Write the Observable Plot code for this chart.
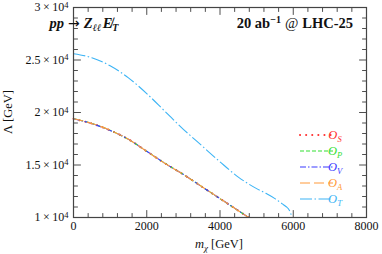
<!DOCTYPE html>
<html><head><meta charset="utf-8">
<script src="https://cdn.jsdelivr.net/npm/d3@7"></script>
<script src="https://cdn.jsdelivr.net/npm/@observablehq/plot@0.6"></script>
<style>body{margin:0;background:#fff}</style>
</head><body><div id="chart"></div>
<script>
// ---- data ----
const mChi    = [0, 500, 1000, 1500, 2000, 2500, 3000, 3500, 4000, 4500, 4780];
const lambdaS = [19400, 18950, 18300, 17450, 16300, 15150, 14100, 12950, 11800, 10650, 10000];
const lambdaP = [19420, 18960, 18300, 17440, 16300, 15160, 14100, 12950, 11790, 10650, 10000];
const lambdaV = [19400, 18940, 18290, 17450, 16310, 15150, 14110, 12940, 11800, 10660, 10000];
const lambdaA = [19410, 18950, 18310, 17450, 16300, 15150, 14100, 12950, 11800, 10650, 10000];
const mChiT    = [0, 500, 1000, 1500, 2000, 2500, 3000, 3500, 4000, 4500, 5000, 5250, 5500, 5700, 5800, 5900, 5970];
const lambdaT  = [25600, 25220, 24450, 23300, 21800, 20100, 18400, 16850, 15300, 13850, 12750, 12300, 11800, 11300, 11050, 10650, 10000];
const xMajor = [0, 2000, 4000, 6000, 8000];
const xMinor = d3.range(0, 8001, 400).filter(v => v % 2000 !== 0);
const yMajor = [10000, 15000, 20000, 25000, 30000];
const yMinor = d3.range(10000, 30001, 1000).filter(v => v % 5000 !== 0);
const seriesNames = ["S", "P", "V", "A", "T"];
const colors = {S: "#ff3030", P: "#33e033", V: "#3a3aff", A: "#ff9a3a", T: "#3cb4f5"};
const dashes = {S: "0.1 6", P: "4 2", V: "6 2 1.5 2", A: "10 4", T: "12 2.5 1.5 2.5"};
const widths = {S: 2, P: 1.1, V: 1.1, A: 1.1, T: 1.1};

const tbl = (xs, ys) => xs.map((m, i) => ({m, v: ys[i]}));
const data = {S: tbl(mChi, lambdaS), P: tbl(mChi, lambdaP), V: tbl(mChi, lambdaV), A: tbl(mChi, lambdaA), T: tbl(mChiT, lambdaT)};

const tickShape = {draw(ctx, l) { ctx.moveTo(0, 0); ctx.lineTo(0, -l); }};
const tickMarks = (vals, axis, len) => {
  const o = {shape: tickShape, anchor: "start", length: len, stroke: "#222", strokeWidth: 0.8};
  if (axis === "x") return [
    Plot.vector(vals, {...o, x: d => d, y: 10000, rotate: 0}),
    Plot.vector(vals, {...o, x: d => d, y: 30000, rotate: 180})
  ];
  return [
    Plot.vector(vals, {...o, y: d => d, x: 0, rotate: 90}),
    Plot.vector(vals, {...o, y: d => d, x: 8000, rotate: -90})
  ];
};

const FONT = "\"Liberation Serif\", \"DejaVu Serif\", serif";
const plot = Plot.plot({
  width: 382, height: 254,
  marginLeft: 73, marginRight: 16, marginTop: 7, marginBottom: 37,
  x: {domain: [0, 8000], label: null},
  y: {domain: [10000, 30000], label: null},
  style: {fontFamily: FONT, fontSize: "12px", background: "white", color: "#111"},
  marks: [
    ...seriesNames.map(k => Plot.line(data[k], {
      x: "m", y: "v", stroke: colors[k], strokeWidth: widths[k],
      strokeDasharray: dashes[k], strokeLinecap: k === "S" ? "round" : "butt", curve: "monotone-x"
    })),
    ...tickMarks(xMajor, "x", 7), ...tickMarks(xMinor, "x", 4),
    ...tickMarks(yMajor, "y", 7), ...tickMarks(yMinor, "y", 4),
    Plot.frame({stroke: "#444", strokeWidth: 1.2}),
    Plot.axisX(xMajor, {tickSize: 0, tickPadding: 4, fontSize: 12, tickFormat: d => String(d)}),
    Plot.axisY(yMajor, {tickSize: 0, tickPadding: 5, fontSize: 12, tickFormat: d => `${d / 1e4}|4`})
  ]
});
document.getElementById("chart").appendChild(plot);

const svg = d3.select(plot);
svg.selectAll('g[aria-label="y-axis tick label"] text').each(function() {
  const t = d3.select(this);
  const [mant, exp] = t.text().split("|");
  t.text(null);
  t.append("tspan").text(mant);
  t.append("tspan").attr("dx", 2.5).text("×");
  t.append("tspan").attr("dx", 2.5).text("10");
  t.append("tspan").attr("dy", "-0.45em").attr("font-size", 8.5).text(exp);
});

const g = svg.append("g").attr("font-family", FONT).attr("fill", "#111");
// process label
const t1 = g.append("text").attr("x", 84).attr("y", 28).attr("font-size", 14.5)
  .attr("font-weight", "bold").attr("font-style", "italic");
t1.append("tspan").text("pp");
t1.append("tspan").attr("dx", 4).attr("font-style", "normal").attr("font-weight", "normal")
  .attr("font-family", "\"DejaVu Sans\", sans-serif").attr("font-size", 14).text("→");
t1.append("tspan").attr("dx", 4).text("Z");
t1.append("tspan").attr("font-size", 10).attr("dy", 3).text("ℓℓ");
t1.append("tspan").attr("dy", -3).attr("dx", 1.5).text("E\u0338");
t1.append("tspan").attr("font-size", 10).attr("dy", 3).text("T");
// luminosity label
const t2 = g.append("text").attr("x", 353).attr("y", 28).attr("font-size", 14.5)
  .attr("font-weight", "bold").attr("text-anchor", "end");
t2.append("tspan").text("20");
t2.append("tspan").attr("dx", 3.5).text("ab");
t2.append("tspan").attr("font-size", 10).attr("dy", -5.5).text("−1");
t2.append("tspan").attr("dy", 5.5).attr("dx", 4).attr("font-weight", "normal").text("@");
t2.append("tspan").attr("dx", 4).text("LHC-25");
// axis labels
const xl = g.append("text").attr("x", 219).attr("y", 248).attr("font-size", 12.5).attr("text-anchor", "middle");
xl.append("tspan").attr("font-style", "italic").text("m");
xl.append("tspan").attr("font-style", "italic").attr("font-size", 9).attr("dy", 2.5).text("χ");
xl.append("tspan").attr("dy", -2.5).text(" [GeV]");
g.append("text").attr("transform", "translate(12,112) rotate(-90)").attr("font-size", 12.5)
  .attr("text-anchor", "middle").text("Λ [GeV]");
// legend
seriesNames.forEach((k, i) => {
  const y = 135 + i * 16;
  g.append("line").attr("x1", 300).attr("x2", 333).attr("y1", y).attr("y2", y)
    .attr("stroke", colors[k]).attr("stroke-width", widths[k])
    .attr("stroke-dasharray", dashes[k]).attr("stroke-linecap", k === "S" ? "round" : "butt");
  const lt = g.append("text").attr("x", 335).attr("y", y + 4).attr("font-size", 12.5)
    .attr("font-style", "italic").attr("fill", colors[k]);
  lt.append("tspan").text("O");
  lt.append("tspan").attr("font-size", 8.5).attr("dy", 2.5).text(k);
});
</script>
</body></html>
